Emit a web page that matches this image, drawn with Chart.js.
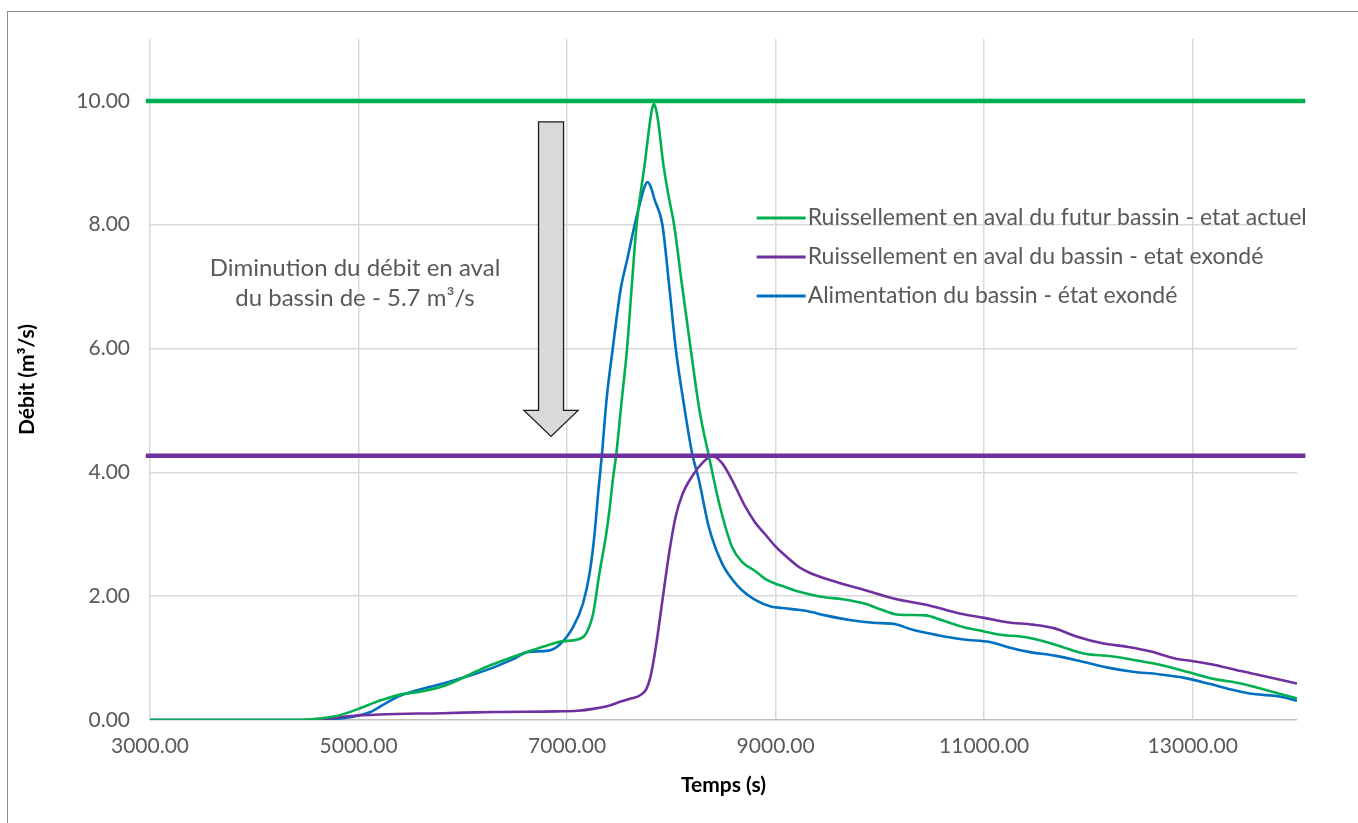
<!DOCTYPE html>
<html>
<head>
<meta charset="utf-8">
<script src="https://cdn.jsdelivr.net/npm/chart.js@4/dist/chart.umd.min.js"></script>
<style>
    html, body { margin: 0; padding: 0; background: #fff; overflow: hidden; }
    #frame { position: absolute; left: 7px; top: 11px; width: 1400px; height: 900px; border: 1px solid #8c8c8c; }
    #wrap { position: absolute; left: 0; top: 0; width: 1358px; height: 823px; }
</style>
</head>
<body>
<div id="frame"></div>
<div id="wrap"><canvas id="chart" width="1358" height="823"></canvas></div>
<script>
// Temps (s) / Débit (m3/s)
const greenTimes = [3000, 4400, 4600, 4800, 5000, 5200, 5400, 5600, 5800, 6000, 6200, 6400, 6600, 6800, 6950, 7100, 7180, 7250, 7310, 7375, 7407, 7440, 7470, 7520, 7575, 7620, 7667, 7746, 7790, 7812, 7832, 7852, 7875, 7921, 7975, 8026, 8100, 8185, 8270, 8359, 8470, 8581, 8680, 8793, 8899, 9000, 9089, 9228, 9436, 9643, 9851, 10017, 10183, 10432, 10598, 10805, 11000, 11137, 11386, 11635, 11801, 11967, 12216, 12465, 12714, 12963, 13212, 13461, 13710, 14000];
const greenValues = [0, 0, 0.02, 0.07, 0.18, 0.31, 0.41, 0.46, 0.54, 0.68, 0.84, 0.97, 1.09, 1.2, 1.27, 1.3, 1.39, 1.72, 2.37, 3.0, 3.4, 3.9, 4.27, 5.1, 6.0, 7.0, 8.0, 9.0, 9.6, 9.85, 9.95, 9.87, 9.65, 9.0, 8.45, 8.0, 7.05, 6.0, 5.0, 4.27, 3.42, 2.8, 2.55, 2.42, 2.28, 2.2, 2.15, 2.07, 1.99, 1.95, 1.88, 1.78, 1.7, 1.69, 1.61, 1.5, 1.43, 1.38, 1.34, 1.24, 1.15, 1.07, 1.03, 0.96, 0.88, 0.77, 0.66, 0.59, 0.48, 0.35];

const purpleTimes = [3000, 4500, 4700, 4900, 5200, 5800, 6300, 6900, 7100, 7250, 7400, 7500, 7620, 7700, 7760, 7800, 7851, 7915, 7978, 8042, 8105, 8200, 8296, 8391, 8486, 8581, 8708, 8800, 8899, 9000, 9089, 9216, 9311, 9519, 9851, 10141, 10473, 10763, 11000, 11220, 11469, 11676, 11884, 12133, 12382, 12589, 12838, 13004, 13212, 13461, 13710, 14000];
const purpleValues = [0, 0, 0.02, 0.06, 0.09, 0.11, 0.13, 0.14, 0.15, 0.18, 0.23, 0.29, 0.35, 0.4, 0.5, 0.7, 1.18, 1.94, 2.69, 3.29, 3.64, 3.94, 4.15, 4.26, 4.15, 3.88, 3.45, 3.2, 3.0, 2.8, 2.66, 2.48, 2.39, 2.26, 2.1, 1.96, 1.85, 1.72, 1.65, 1.58, 1.54, 1.48, 1.35, 1.24, 1.18, 1.11, 0.99, 0.95, 0.89, 0.79, 0.7, 0.59];

const blueTimes = [3000, 4500, 4700, 4900, 5100, 5280, 5410, 5625, 5838, 6052, 6265, 6478, 6630, 6820, 6930, 7057, 7152, 7216, 7263, 7300, 7333, 7380, 7438, 7511, 7581, 7648, 7710, 7745, 7771, 7800, 7840, 7914, 7980, 8042, 8120, 8200, 8264, 8359, 8486, 8645, 8804, 8962, 9062, 9216, 9300, 9477, 9726, 9934, 10141, 10307, 10556, 10805, 11054, 11220, 11427, 11676, 11925, 12174, 12423, 12672, 12921, 13170, 13378, 13585, 13834, 14000];
const blueValues = [0, 0, 0.01, 0.04, 0.12, 0.29, 0.4, 0.51, 0.6, 0.71, 0.83, 0.98, 1.1, 1.12, 1.22, 1.5, 1.88, 2.37, 3.0, 3.7, 4.27, 5.2, 6.0, 6.93, 7.47, 8.0, 8.42, 8.62, 8.69, 8.62, 8.4, 8.0, 7.0, 6.0, 5.1, 4.3, 3.88, 3.12, 2.53, 2.15, 1.94, 1.83, 1.81, 1.78, 1.76, 1.69, 1.61, 1.57, 1.55, 1.46, 1.37, 1.3, 1.26, 1.18, 1.1, 1.04, 0.95, 0.85, 0.78, 0.74, 0.68, 0.58, 0.49, 0.42, 0.38, 0.31];

// peak reference lines
const refTimes = [2960, 14080];
const greenPeak = [10, 10];
const purplePeak = [4.27, 4.27];

const seriesLabels = [
    'Ruissellement en aval du futur bassin - etat actuel',
    'Ruissellement en aval du bassin - etat exondé',
    'Alimentation du bassin - état exondé'
];
const seriesColors = ['#00B050', '#7030A0', '#0070C0'];

const xTicks = [3000, 5000, 7000, 9000, 11000, 13000];
const yTicks = [0, 2, 4, 6, 8, 10];

const noteLines = ['Diminution du débit en aval', 'du bassin de - 5.7 m³/s'];

const FONT = 'Lato, "Open Sans", sans-serif';
const TEXT = '#595959';

function points(xs, ys) {
    return xs.map((x, i) => ({ x: x, y: ys[i] }));
}

const decorPlugin = {
    id: 'decor',
    afterDatasetsDraw(chart) {
        const ctx = chart.ctx;
        const xs = chart.scales.x;
        const ys = chart.scales.y;

        // arrow
        const ax = xs.getPixelForValue(6846);
        const top = ys.getPixelForValue(9.66);
        const tip = ys.getPixelForValue(4.58);
        const headTop = tip - 26;
        ctx.save();
        ctx.beginPath();
        ctx.moveTo(ax - 12.5, top);
        ctx.lineTo(ax + 12.5, top);
        ctx.lineTo(ax + 12.5, headTop);
        ctx.lineTo(ax + 27, headTop);
        ctx.lineTo(ax, tip);
        ctx.lineTo(ax - 27, headTop);
        ctx.lineTo(ax - 12.5, headTop);
        ctx.closePath();
        ctx.fillStyle = '#D9D9D9';
        ctx.fill();
        ctx.lineWidth = 1.3;
        ctx.strokeStyle = '#1a1a1a';
        ctx.stroke();

        // note text
        ctx.fillStyle = TEXT;
        ctx.font = '24px ' + FONT;
        ctx.textAlign = 'center';
        ctx.textBaseline = 'middle';
        const nx = xs.getPixelForValue(4966);
        ctx.fillText(noteLines[0], nx, ys.getPixelForValue(7.3));
        ctx.fillText(noteLines[1], nx, ys.getPixelForValue(6.82));

        // legend
        ctx.font = '23px ' + FONT;
        const lx = xs.getPixelForValue(8818);
        const rows = [8.11, 7.48, 6.85];
        ctx.textAlign = 'left';
        seriesLabels.forEach((label, i) => {
            const ly = ys.getPixelForValue(rows[i]);
            ctx.strokeStyle = seriesColors[i];
            ctx.lineWidth = 3;
            ctx.beginPath();
            ctx.moveTo(lx, ly);
            ctx.lineTo(lx + 49, ly);
            ctx.stroke();
            ctx.fillStyle = TEXT;
            ctx.fillText(label, lx + 51, ly);
        });
        ctx.restore();
    }
};

const ctx = document.getElementById('chart').getContext('2d');
new Chart(ctx, {
    type: 'line',
    data: {
        datasets: [
            {
                label: 'peak1',
                data: points(refTimes, greenPeak),
                borderColor: seriesColors[0],
                borderWidth: 4.5,
                pointRadius: 0,
                clip: false
            },
            {
                label: 'peak2',
                data: points(refTimes, purplePeak),
                borderColor: seriesColors[1],
                borderWidth: 4.5,
                pointRadius: 0,
                clip: false
            },
            {
                label: seriesLabels[0],
                data: points(greenTimes, greenValues),
                borderColor: seriesColors[0],
                borderWidth: 2.6,
                pointRadius: 0,
                cubicInterpolationMode: 'monotone'
            },
            {
                label: seriesLabels[1],
                data: points(purpleTimes, purpleValues),
                borderColor: seriesColors[1],
                borderWidth: 2.6,
                pointRadius: 0,
                cubicInterpolationMode: 'monotone'
            },
            {
                label: seriesLabels[2],
                data: points(blueTimes, blueValues),
                borderColor: seriesColors[2],
                borderWidth: 2.6,
                pointRadius: 0,
                cubicInterpolationMode: 'monotone'
            }
        ]
    },
    options: {
        responsive: false,
        animation: false,
        layout: { padding: { left: 11, right: 61, top: 39, bottom: 21 } },
        plugins: {
            legend: { display: false },
            tooltip: { enabled: false }
        },
        scales: {
            x: {
                type: 'linear',
                min: 3000,
                max: 14000,
                afterBuildTicks: scale => { scale.ticks = xTicks.map(v => ({ value: v })); },
                afterFit: scale => { scale.height = 82; },
                grid: { color: '#D9D9D9', lineWidth: 1.5, drawTicks: false },
                border: { display: false },
                ticks: {
                    padding: 14,
                    color: TEXT,
                    font: { family: FONT, size: 21 },
                    maxRotation: 0,
                    callback: v => v.toFixed(2)
                },
                title: {
                    display: true,
                    text: 'Temps (s)',
                    color: '#000',
                    font: { family: FONT, size: 21, weight: 'bold' }
                }
            },
            y: {
                min: 0,
                max: 11,
                afterBuildTicks: scale => { scale.ticks = yTicks.map(v => ({ value: v })); },
                afterFit: scale => { scale.width = 139; },
                grid: {
                    color: ctx => ctx.tick && ctx.tick.value === 0 ? '#BFBFBF' : '#D9D9D9',
                    lineWidth: 1.5,
                    drawTicks: false
                },
                border: { display: false },
                ticks: {
                    padding: 20,
                    color: TEXT,
                    font: { family: FONT, size: 21 },
                    callback: v => v.toFixed(2)
                },
                title: {
                    display: true,
                    text: 'Débit (m³/s)',
                    color: '#000',
                    font: { family: FONT, size: 21, weight: 'bold' }
                }
            }
        }
    },
    plugins: [decorPlugin]
});
</script>
</body>
</html>
